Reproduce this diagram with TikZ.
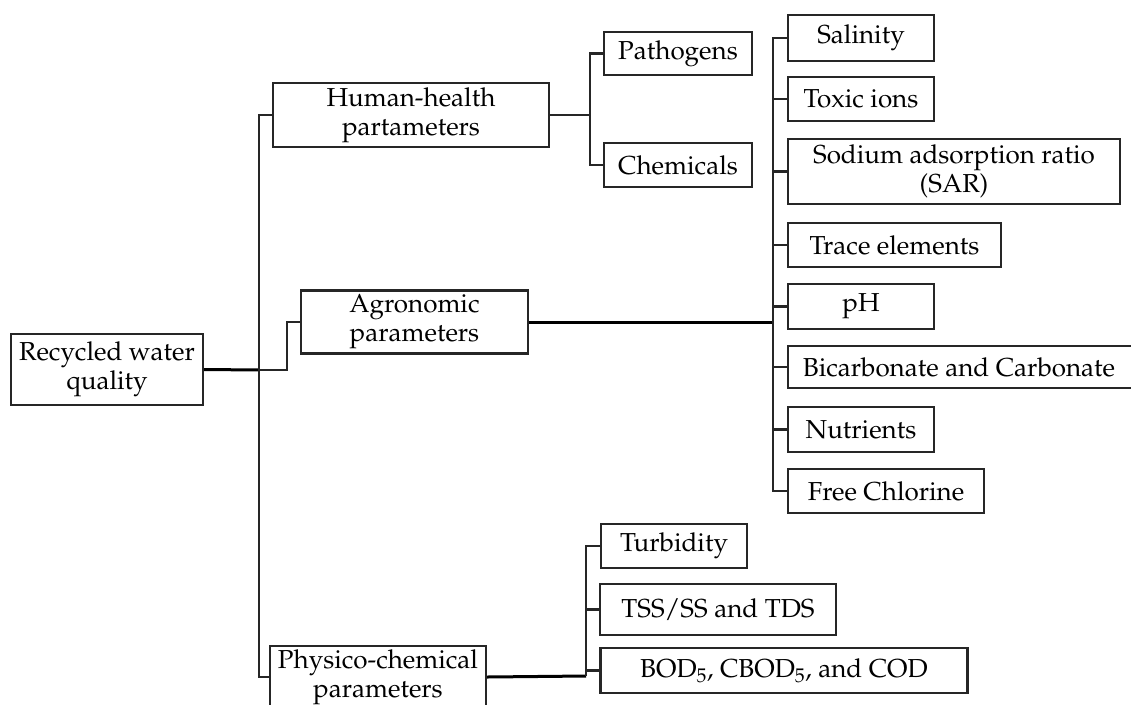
\documentclass[tikz,border=0pt]{standalone}
\usepackage[T1]{fontenc}
\usepackage{mathpazo}
\begin{document}
\begin{tikzpicture}[x=1pt,y=-1pt,
  box/.style={draw=black!85, line width=2.4pt, fill=white, inner sep=0pt, align=center,
    font=\fontsize{26}{29}\selectfont, text=black},
  conn/.style={draw=black!85, line width=2.2pt},
  thick conn/.style={draw=black, line width=3pt}]
\useasboundingbox (0,0) rectangle (1131,704);
\clip (0,0) rectangle (1131,704);
% level 0
\node[box, minimum width=192pt, minimum height=71pt] (root) at (107,369.5) {Recycled water\\quality};
% level 1
\node[box, minimum width=276pt, minimum height=64pt] (hh) at (411,115) {Human-health\\partameters};
\node[box, minimum width=227pt, minimum height=63pt] (agro) at (414.5,322) {Agronomic\\parameters};
\node[box, minimum width=216pt, minimum height=62pt] (phys) at (378,677) {Physico-chemical\\parameters};
% human-health children
\node[box, minimum width=148pt, minimum height=43pt] (path) at (678,53.5) {Pathogens};
\node[box, minimum width=148pt, minimum height=44pt] (chem) at (678,165) {Chemicals};
% agronomic children
\node[box, minimum width=146pt, minimum height=46pt] (sal) at (861,38) {Salinity};
\node[box, minimum width=146pt, minimum height=44pt] (tox) at (861,99) {Toxic ions};
\node[box, minimum width=332pt, minimum height=65pt] (sar) at (954,171.5) {Sodium adsorption ratio\\(SAR)};
\node[box, minimum width=213pt, minimum height=44pt] (trace) at (894.5,245) {Trace elements};
\node[box, minimum width=146pt, minimum height=45pt] (ph) at (861,306.5) {pH};
\node[box, minimum width=350pt, minimum height=42pt] (bic) at (963,367) {Bicarbonate and Carbonate\hspace*{8pt}};
\node[box, minimum width=146pt, minimum height=45pt] (nut) at (861,429.5) {Nutrients};
\node[box, minimum width=196pt, minimum height=44pt] (fc) at (886,491) {Free Chlorine};
% physico children
\node[box, minimum width=146pt, minimum height=44pt] (turb) at (674,546) {Turbidity};
\node[box, minimum width=236pt, minimum height=51pt] (tss) at (718,609.5) {TSS/SS and TDS};
\node[box, minimum width=367pt, minimum height=45pt] (bod) at (784,670.5) {BOD$_5$, CBOD$_5$, and COD};
% junctions
\coordinate (j1) at (259,370);
\coordinate (ja) at (287,370);
\coordinate (jh) at (590,115);
\coordinate (jr) at (773,322);
\coordinate (jp) at (586,676);
% connectors
\draw[thick conn] (root.east) -- (j1);
\draw[conn] (hh.west) -| (j1);
\draw[conn] (phys.west) -| (j1);
\draw[conn] (j1) -- (ja) |- (agro.west);
\draw[conn] (hh.east) -- (jh);
\draw[conn] (path.west) -| (jh);
\draw[conn] (chem.west) -| (jh);
\draw[thick conn] (agro.east) -- (jr);
\foreach \n in {sal,tox,sar,trace,ph,bic,nut,fc}{\draw[conn] (\n.west) -| (jr);}
\draw[thick conn] (phys.east) -- (jp);
\foreach \n in {turb,tss,bod}{\draw[conn] (\n.west) -| (jp);}
\end{tikzpicture}
\end{document}
